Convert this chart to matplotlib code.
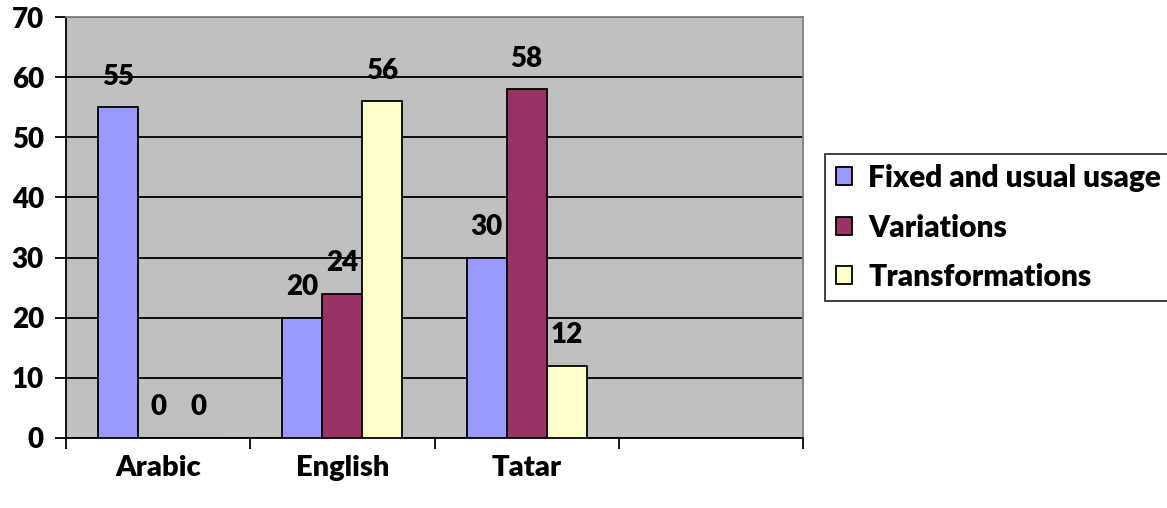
import numpy as np
import matplotlib
matplotlib.use("Agg")
import matplotlib.pyplot as plt

# datos
categories = ["Arabic", "English", "Tatar", ""]
series_names = ["Fixed and usual usage", "Variations", "Transformations"]
fixed = [55, 20, 30]
variations = [0, 24, 58]
transformations = [0, 56, 12]
colors = ["#9999FF", "#993366", "#FFFFCC"]

plt.rcParams["font.family"] = ["Lato", "DejaVu Sans"]
plt.rcParams["font.weight"] = "bold"

fig = plt.figure(figsize=(11.67, 5.08), dpi=100)
ax = fig.add_axes([0.0566, 0.1378, 0.6315, 0.8287])
ax.set_facecolor("#C0C0C0")

x = np.arange(3)
w = 0.217
for i, (vals, name, c) in enumerate(zip([fixed, variations, transformations], series_names, colors)):
    pos = x + (i - 1) * w
    ax.bar(pos, vals, width=w, color=c, edgecolor="black", linewidth=1.3,
           label=name, zorder=3)
    for p, v in zip(pos, vals):
        ax.annotate(str(v), (p, v), xytext=(0, 22), textcoords="offset points",
                    ha="center", va="center", fontsize=20, fontweight="heavy")

ax.set_xlim(-0.5, 3.5)
ax.set_ylim(0, 70)
ax.set_yticks(range(0, 71, 10))
ax.yaxis.grid(True, color="black", linewidth=1.3, zorder=0)
ax.set_axisbelow(True)

# separadores de categoría como ticks mayores, nombres como ticks menores
ax.set_xticks([-0.5, 0.5, 1.5, 2.5, 3.5])
ax.set_xticklabels([])
ax.set_xticks(np.arange(4), minor=True)
ax.set_xticklabels(categories, minor=True)
ax.tick_params(axis="x", which="minor", length=0, pad=12, labelsize=21)
ax.tick_params(axis="x", which="major", length=8, width=1.3)
ax.tick_params(axis="y", length=8, width=1.3, pad=8, labelsize=20)
for t in ax.get_xticklabels(minor=True) + ax.get_yticklabels():
    t.set_fontweight("heavy")

for s in ["left", "bottom"]:
    ax.spines[s].set_color("black")
    ax.spines[s].set_linewidth(1.3)
for s in ["top", "right"]:
    ax.spines[s].set_color("#808080")
    ax.spines[s].set_linewidth(1.3)

leg = ax.legend(loc="center left", bbox_to_anchor=(1.03, 0.5), fontsize=21.5,
                frameon=True, fancybox=False, edgecolor="black",
                handlelength=0.55, handleheight=0.55, handletextpad=0.55,
                labelspacing=0.72, borderpad=0.35, borderaxespad=0)
leg.get_frame().set_linewidth(1.3)
for t in leg.get_texts():
    t.set_fontweight("heavy")

plt.savefig("out.png", dpi=100)
plt.close()
